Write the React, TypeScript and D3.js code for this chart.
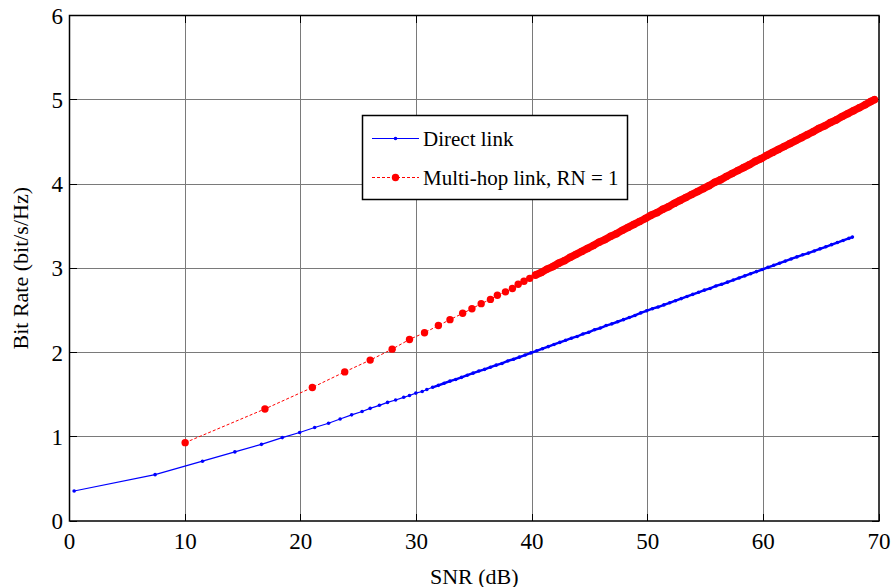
import React, { useEffect, useRef } from 'react';
import * as d3 from 'd3';

// SNR (dB) and bit rate values
const directSnr = [0.4, 7.4, 11.5, 14.3, 16.6, 18.4, 19.9, 21.2, 22.4, 23.4, 24.4, 25.3, 26.0, 26.8, 27.5, 28.2, 28.9, 29.4, 29.95, 30.5, 30.9, 31.4,
  31.9, 32.4, 32.9, 33.4, 33.9, 34.4, 34.9, 35.4, 35.9, 36.4, 36.9, 37.4, 37.9, 38.4, 38.9, 39.4, 39.9, 40.4, 40.9, 41.4, 41.9, 42.4, 42.9, 43.4, 43.9,
  44.4, 44.9, 45.4, 45.9, 46.4, 46.9, 47.4, 47.9, 48.4, 48.9, 49.4, 49.9, 50.4, 50.9, 51.4, 51.9, 52.4, 52.9, 53.4, 53.9, 54.4, 54.9, 55.4, 55.9,
  56.4, 56.9, 57.4, 57.9, 58.4, 58.9, 59.4, 59.9, 60.4, 60.9, 61.4, 61.9, 62.4, 62.9, 63.4, 63.9, 64.4, 64.9, 65.4, 65.9, 66.4, 66.9, 67.4, 67.7];
const directRate = [0.356, 0.55, 0.71, 0.82, 0.91, 0.99, 1.05, 1.11, 1.16, 1.21, 1.26, 1.30, 1.337, 1.373, 1.408, 1.436, 1.468, 1.49, 1.518, 1.537, 1.56, 1.587,
  1.61, 1.635, 1.66, 1.68, 1.705, 1.73, 1.755, 1.78, 1.80, 1.825, 1.85, 1.87, 1.90, 1.92, 1.945, 1.97, 1.995, 2.02, 2.045, 2.07, 2.095, 2.12, 2.145, 2.17, 2.19,
  2.22, 2.24, 2.27, 2.29, 2.32, 2.34, 2.365, 2.39, 2.415, 2.44, 2.47, 2.495, 2.52, 2.54, 2.565, 2.59, 2.615, 2.64, 2.665, 2.69, 2.715, 2.74, 2.76, 2.79,
  2.81, 2.835, 2.86, 2.885, 2.91, 2.935, 2.96, 2.985, 3.01, 3.035, 3.06, 3.085, 3.11, 3.135, 3.16, 3.18, 3.205, 3.23, 3.255, 3.28, 3.305, 3.33, 3.355, 3.37];

const multiSnr = [10, 16.9, 21.0, 23.8, 26.0, 27.9, 29.4, 30.7, 31.9, 32.9, 34.0, 34.8, 35.6, 36.4, 37.0, 37.7, 38.3, 38.8,
  39.3, 39.8, 40.3, 40.8, 41.3, 41.8, 42.3, 42.8, 43.3, 43.8, 44.3, 44.8, 45.3, 45.8, 46.3, 46.8, 47.3, 47.8, 48.3, 48.8, 49.3, 49.8,
  50.3, 50.8, 51.3, 51.8, 52.3, 52.8, 53.3, 53.8, 54.3, 54.8, 55.3, 55.8, 56.3, 56.8, 57.3, 57.8, 58.3, 58.8, 59.3, 59.8,
  60.3, 60.8, 61.3, 61.8, 62.3, 62.8, 63.3, 63.8, 64.3, 64.8, 65.3, 65.8, 66.3, 66.8, 67.3, 67.8, 68.3, 68.8, 69.3, 69.6];
const multiRate = [0.93, 1.33, 1.585, 1.77, 1.91, 2.04, 2.155, 2.235, 2.32, 2.39, 2.465, 2.52, 2.58, 2.63, 2.68, 2.72, 2.76, 2.81,
  2.845, 2.88, 2.92, 2.95, 2.99, 3.02, 3.06, 3.09, 3.13, 3.165, 3.20, 3.235, 3.27, 3.31, 3.34, 3.38, 3.41, 3.45, 3.485, 3.52, 3.555, 3.59,
  3.63, 3.66, 3.70, 3.73, 3.77, 3.805, 3.84, 3.875, 3.91, 3.945, 3.98, 4.02, 4.05, 4.09, 4.125, 4.16, 4.195, 4.23, 4.27, 4.30,
  4.34, 4.375, 4.41, 4.445, 4.48, 4.515, 4.55, 4.585, 4.62, 4.66, 4.69, 4.73, 4.76, 4.80, 4.835, 4.87, 4.905, 4.94, 4.98, 5.00];

const xTicks = [0, 10, 20, 30, 40, 50, 60, 70];
const yTicks = [0, 1, 2, 3, 4, 5, 6];
const legendLabels = ['Direct link', 'Multi-hop link, RN = 1'];

const FONT = "'Liberation Serif', 'DejaVu Serif', serif";

export default function App() {
  const svgRef = useRef<SVGSVGElement>(null);

  useEffect(() => {
    const svg = d3.select(svgRef.current);
    svg.selectAll('*').remove();

    const left = 69.5, right = 879, top = 15.5, bottom = 521;
    const x = d3.scaleLinear().domain([0, 70]).range([left, right]);
    const y = d3.scaleLinear().domain([0, 6]).range([bottom, top]);

    svg.append('rect').attr('width', 891).attr('height', 587).attr('fill', '#fff');

    // grid
    const grid = svg.append('g').attr('stroke', '#7a7a7a').attr('stroke-width', 1).attr('shape-rendering', 'crispEdges');
    xTicks.slice(1, -1).forEach(t => grid.append('line').attr('x1', x(t)).attr('x2', x(t)).attr('y1', top).attr('y2', bottom));
    yTicks.slice(1, -1).forEach(t => grid.append('line').attr('y1', y(t)).attr('y2', y(t)).attr('x1', left).attr('x2', right));

    // inward ticks on all four sides
    const ticks = svg.append('g').attr('stroke', '#000').attr('stroke-width', 1).attr('shape-rendering', 'crispEdges');
    xTicks.forEach(t => {
      ticks.append('line').attr('x1', x(t)).attr('x2', x(t)).attr('y1', bottom).attr('y2', bottom - 7);
      ticks.append('line').attr('x1', x(t)).attr('x2', x(t)).attr('y1', top).attr('y2', top + 7);
    });
    yTicks.forEach(t => {
      ticks.append('line').attr('y1', y(t)).attr('y2', y(t)).attr('x1', left).attr('x2', left + 7);
      ticks.append('line').attr('y1', y(t)).attr('y2', y(t)).attr('x1', right).attr('x2', right - 7);
    });

    // axis box
    svg.append('rect').attr('x', left).attr('y', top).attr('width', right - left).attr('height', bottom - top)
      .attr('fill', 'none').attr('stroke', '#000').attr('stroke-width', 1.5);

    // tick labels
    const lab = svg.append('g').style('font-family', FONT).style('font-size', '23px').attr('fill', '#000');
    xTicks.forEach(t => lab.append('text').attr('x', x(t)).attr('y', 549).attr('text-anchor', 'middle').text(t));
    yTicks.forEach(t => lab.append('text').attr('x', 63).attr('y', y(t) + 8).attr('text-anchor', 'end').text(t));

    // axis titles (x title is cut by the bottom edge, as in the figure)
    svg.append('text').attr('x', (left + right) / 2).attr('y', 584).attr('text-anchor', 'middle')
      .style('font-family', FONT).style('font-size', '22px').text('SNR (dB)');
    svg.append('text').attr('transform', `translate(28,${(top + bottom) / 2}) rotate(-90)`).attr('text-anchor', 'middle')
      .style('font-family', FONT).style('font-size', '22px').text('Bit Rate (bit/s/Hz)');

    const line = d3.line<[number, number]>().x(d => x(d[0])).y(d => y(d[1]));
    const direct = directSnr.map((s, i) => [s, directRate[i]] as [number, number]);
    const multi = multiSnr.map((s, i) => [s, multiRate[i]] as [number, number]);

    // direct link (markers merge into a thicker trace where they are dense)
    svg.append('path').datum(direct).attr('d', line).attr('fill', 'none').attr('stroke', '#0000ff').attr('stroke-width', 1.2);
    svg.append('path').datum(direct.filter(d => d[0] >= 31.4)).attr('d', line).attr('fill', 'none')
      .attr('stroke', '#0000ff').attr('stroke-width', 2.4).attr('stroke-linecap', 'round');
    svg.append('g').selectAll('circle').data(direct).enter().append('circle')
      .attr('cx', d => x(d[0])).attr('cy', d => y(d[1])).attr('r', 1.8).attr('fill', '#0000ff');

    // multi-hop link
    svg.append('path').datum(multi).attr('d', line).attr('fill', 'none').attr('stroke', '#ff0000').attr('stroke-width', 1)
      .attr('stroke-dasharray', '3,2');
    svg.append('path').datum(multi.filter(d => d[0] >= 40.3)).attr('d', line).attr('fill', 'none')
      .attr('stroke', '#ff0000').attr('stroke-width', 7.5).attr('stroke-linecap', 'round');
    svg.append('g').selectAll('circle').data(multi).enter().append('circle')
      .attr('cx', d => x(d[0])).attr('cy', d => y(d[1])).attr('r', 3.7).attr('fill', '#ff0000');

    // legend
    const lg = svg.append('g');
    lg.append('rect').attr('x', 362.5).attr('y', 115.5).attr('width', 265).attr('height', 84)
      .attr('fill', '#fff').attr('stroke', '#000').attr('stroke-width', 1.5);
    const rows = [138.5, 177.5];
    lg.append('line').attr('x1', 372).attr('x2', 419).attr('y1', rows[0]).attr('y2', rows[0]).attr('stroke', '#0000ff').attr('stroke-width', 1.2);
    lg.append('circle').attr('cx', 395.5).attr('cy', rows[0]).attr('r', 1.8).attr('fill', '#0000ff');
    lg.append('line').attr('x1', 372).attr('x2', 419).attr('y1', rows[1]).attr('y2', rows[1]).attr('stroke', '#ff0000')
      .attr('stroke-width', 1).attr('stroke-dasharray', '3,2');
    lg.append('circle').attr('cx', 395.5).attr('cy', rows[1]).attr('r', 3.7).attr('fill', '#ff0000');
    legendLabels.forEach((t, i) => lg.append('text').attr('x', 423).attr('y', rows[i] + 7.5)
      .style('font-family', FONT).style('font-size', '21px').text(t));
  }, []);

  return (
    <div style={{ position: 'absolute', left: 0, top: 0 }}>
      <svg ref={svgRef} width={891} height={587} style={{ display: 'block' }} />
    </div>
  );
}
